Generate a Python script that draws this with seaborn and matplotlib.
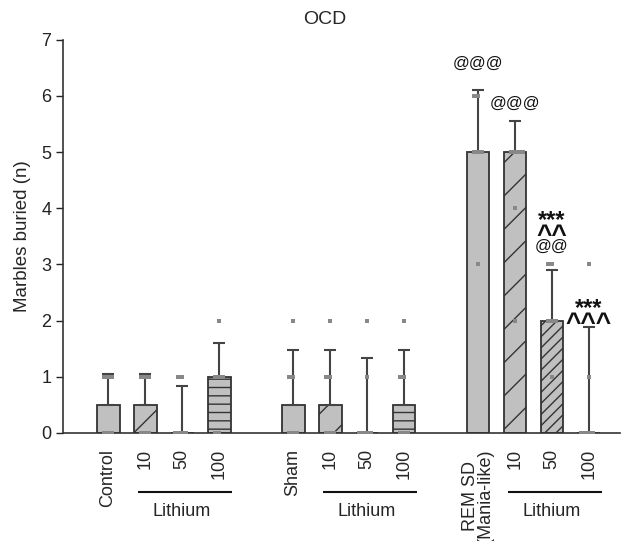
import numpy as np
import pandas as pd
import matplotlib
matplotlib.use("Agg")
import matplotlib.pyplot as plt
import matplotlib.transforms as mtransforms
import seaborn as sns

# ---------------- data ----------------
positions = [0, 1, 2, 3, 5, 6, 7, 8, 10, 11, 12, 13]
means = [0.5, 0.5, 0.0, 1.0, 0.5, 0.5, 0.0, 0.5, 5.0, 5.0, 2.0, 0.0]
err_upper = [0.55, 0.55, 0.84, 0.6, 0.98, 0.98, 1.34, 0.98, 1.1, 0.55, 0.9, 1.88]
hatches = ["", "/", "///", "--", "", "/", "///", "--", "", "/", "///", ""]
individual = [
    [0, 0, 0, 1, 1, 1],
    [0, 0, 0, 1, 1, 1],
    [0, 0, 0, 0, 1, 1],
    [0, 0, 1, 1, 1, 2],
    [0, 0, 0, 1, 1, 2],
    [0, 0, 0, 1, 1, 2],
    [0, 0, 0, 0, 1, 2],
    [0, 0, 0, 1, 1, 2],
    [3, 5, 5, 5, 6, 6],
    [2, 4, 5, 5, 5, 5],
    [1, 2, 2, 2, 3, 3],
    [0, 0, 0, 0, 1, 3],
]
# (bar index, text, baseline y, fontsize, weight)
annotations = [
    (8, "@@@", 6.50, 12, "normal"), (9, "@@@", 5.78, 12, "normal"),
    (10, "***", 3.67, 17, "bold"), (10, "^^", 3.38, 19, "bold"),
    (10, "@@", 3.24, 12, "normal"),
    (11, "***", 2.10, 17, "bold"), (11, "^^^", 1.81, 19, "bold"),
]
tick_texts = ["Control", "10", "50", "100", "Sham", "10", "50", "100",
              "REM SD\n(Mania-like)", "10", "50", "100"]
lithium_groups = [2, 6, 10]   # index of the middle ("50") bar of each lithium group
title = "OCD"
ylabel = "Marbles buried (n)"

# ---------------- plot ----------------
sns.set_style("white")
plt.rcParams["font.family"] = ["Liberation Sans", "DejaVu Sans"]
plt.rcParams["hatch.color"] = "#333333"
plt.rcParams["hatch.linewidth"] = 1.0

fig = plt.figure(figsize=(6.28, 5.41), dpi=100)
ax = fig.add_axes([0.1003, 0.2, 0.887, 0.7264])

bar_df = pd.DataFrame({"pos": positions, "mean": means})
sns.barplot(data=bar_df, x="pos", y="mean", native_scale=True, width=0.62,
            color="#c0c0c0", saturation=1, edgecolor="#333333", linewidth=1.3,
            errorbar=None, ax=ax)
for patch, h in zip(ax.patches, hatches):
    patch.set_hatch(h)

ax.errorbar(positions, means, yerr=[np.zeros(len(means)), err_upper], fmt="none",
            ecolor="#444444", elinewidth=1.5, capsize=4.2, capthick=1.5, zorder=3)

dot_df = pd.DataFrame({"pos": np.repeat(positions, [len(v) for v in individual]),
                       "val": np.concatenate(individual)})
sns.swarmplot(data=dot_df, x="pos", y="val", native_scale=True, color="#888888",
              marker="s", size=2.6, linewidth=0, ax=ax, zorder=4)

for idx, txt, yv, fs, fw in annotations:
    ax.text(positions[idx], yv, txt, ha="center", va="baseline", fontsize=fs,
            fontweight=fw, color="#111111")

ax.set_xlim(-1.22, 13.84)
ax.set_ylim(0, 7)
ax.set_yticks(range(8))
ax.set_xticks([])
ax.set_xlabel("")
ax.set_ylabel(ylabel, fontsize=13.5, labelpad=7)
ax.tick_params(axis="y", direction="out", length=5, width=1, colors="#222222",
               labelsize=13, left=True)
for s in ["top", "right"]:
    ax.spines[s].set_visible(False)
for s in ["left", "bottom"]:
    ax.spines[s].set_color("#333333")
    ax.spines[s].set_linewidth(1.2)

fig.text(325 / 628, 1 - 20 / 541, title, ha="center", va="center", fontsize=14)

trans = mtransforms.blended_transform_factory(ax.transData, ax.transAxes)
for x, t in zip(positions, tick_texts):
    ax.text(x, -0.04, t, rotation=90, ha="center", va="top", fontsize=13,
            transform=trans, clip_on=False, linespacing=0.85)
for gi in lithium_groups:
    c = positions[gi]
    ax.plot([c - 1.19, c + 1.35], [-0.151, -0.151], color="#111111", lw=1.5,
            transform=trans, clip_on=False, solid_capstyle="butt")
    ax.text(c, -0.201, "Lithium", ha="center", va="center", fontsize=13,
            transform=trans, clip_on=False)

fig.savefig("out.png", dpi=100)
